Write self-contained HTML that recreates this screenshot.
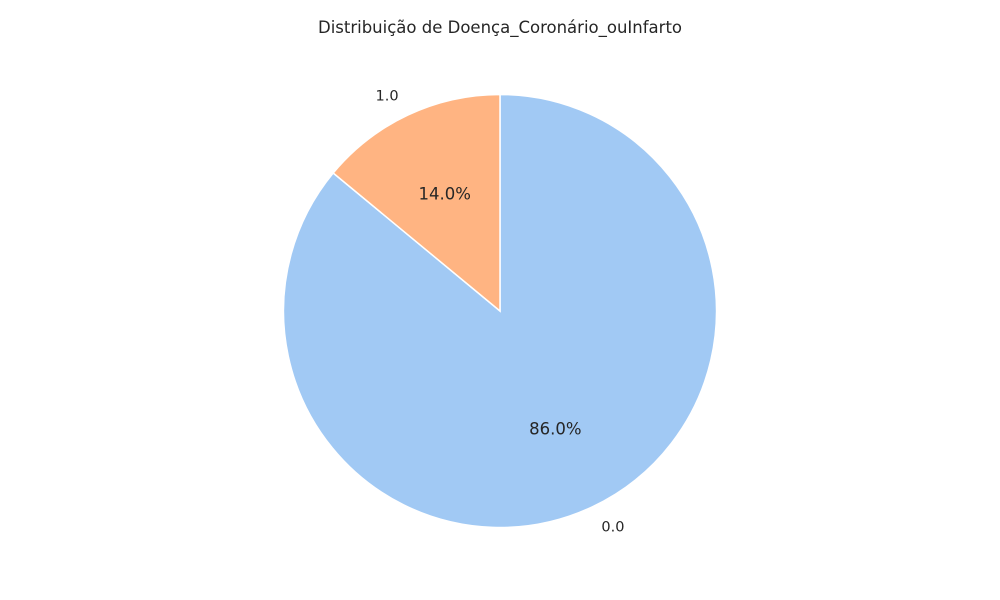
<!DOCTYPE html>
<html><head><meta charset="utf-8"><style>
body{margin:0;background:#fff;}
svg{display:block;font-family:"DejaVu Sans","Liberation Sans",sans-serif;}
</style></head><body>
<svg id="chart" width="1000" height="600">
<rect width="1000" height="600" fill="#fff"/>
<text x="500" y="33" text-anchor="middle" font-size="16.5" fill="#262626">Distribuição de Doença_Coronário_ouInfarto</text>
<g id="slices"></g>
</svg>
<script>
const categories = ["0.0", "1.0"];
const values = [86.0, 14.0];
const colors = ["#a1c9f4", "#ffb482"];
const cx = 500, cy = 311, r = 216.5;
const g = document.getElementById('slices');
const ns = 'http://www.w3.org/2000/svg';
const total = values.reduce((a,b)=>a+b,0);
let ang = 90;
function pt(a, rr){const t=a*Math.PI/180;return [cx+rr*Math.cos(t), cy-rr*Math.sin(t)];}
values.forEach((v,i)=>{
  const sweep = v/total*360;
  const a0 = ang, a1 = ang - sweep;
  const p0 = pt(a0,r), p1 = pt(a1,r);
  const large = sweep>180?1:0;
  const path = document.createElementNS(ns,'path');
  path.setAttribute('d',`M${cx},${cy} L${p0[0]},${p0[1]} A${r},${r} 0 ${large} 1 ${p1[0]},${p1[1]} Z`);
  path.setAttribute('fill',colors[i]);
  path.setAttribute('stroke','#fff');
  path.setAttribute('stroke-width','1.5');
  
  
  g.appendChild(path);
  const mid = (a0+a1)/2;
  const lp = pt(mid, r*1.1);
  const lab = document.createElementNS(ns,'text');
  lab.setAttribute('x',lp[0]); lab.setAttribute('y',lp[1]+5);
  lab.setAttribute('text-anchor', Math.cos(mid*Math.PI/180)<0?'end':'start');
  lab.setAttribute('font-size','14.5'); lab.setAttribute('fill','#262626');
  lab.textContent = categories[i];
  
  
  g.appendChild(lab);
  const pp = pt(mid, r*0.6);
  const pct = document.createElementNS(ns,'text');
  pct.setAttribute('x',pp[0]); pct.setAttribute('y',pp[1]+6);
  pct.setAttribute('text-anchor','middle');
  pct.setAttribute('font-size','16.5'); pct.setAttribute('fill','#262626');
  pct.textContent = (v/total*100).toFixed(1)+'%';
  
  
  g.appendChild(pct);
  ang = a1;
});
</script>
</body></html>
